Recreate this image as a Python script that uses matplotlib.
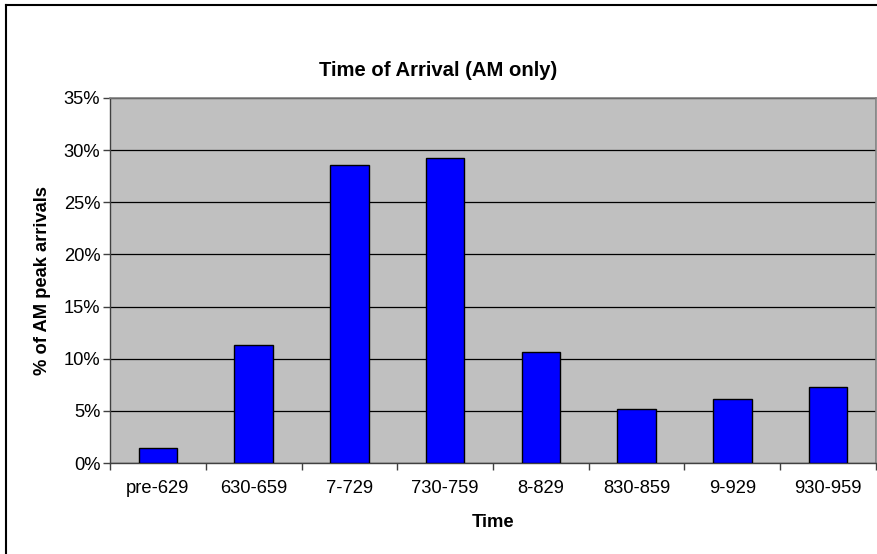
import matplotlib
matplotlib.use('Agg')
import matplotlib.pyplot as plt
from matplotlib.ticker import FixedLocator, PercentFormatter

# data
times = ['pre-629', '630-659', '7-729', '730-759', '8-829', '830-859', '9-929', '930-959']
share = [1.4, 11.35, 28.55, 29.2, 10.6, 5.2, 6.15, 7.3]
y_ticks = [0, 5, 10, 15, 20, 25, 30, 35]

plt.rcParams['font.family'] = ['Liberation Sans', 'DejaVu Sans']

fig = plt.figure(figsize=(8.78, 5.54), dpi=100)
W, H = 878, 554
# plot area in pixels (left, top, right, bottom)
L, T, R, B = 110, 98, 876, 463
ax = fig.add_axes([L / W, 1 - B / H, (R - L) / W, (B - T) / H])
ax.set_facecolor('#c0c0c0')

x = list(range(len(times)))
ax.bar(x, share, width=0.4, color='#0000ff', edgecolor='black', linewidth=1.0, zorder=3)

ax.set_xlim(-0.5, len(times) - 0.5)
ax.set_ylim(0, 35)
ax.yaxis.set_major_locator(FixedLocator(y_ticks))
ax.yaxis.set_major_formatter(PercentFormatter(decimals=0))
ax.grid(axis='y', color='black', linewidth=0.9, zorder=1)

# category labels between tick marks, ticks at boundaries
fs = 13.2
ax.set_xticks([i + 0.5 for i in range(-1, len(times))])
ax.set_xticklabels([])
ax.set_xticks(x, minor=True)
ax.set_xticklabels(times, minor=True)
ax.tick_params(axis='x', which='major', direction='out', length=5, width=1, color='#404040')
ax.tick_params(axis='x', which='minor', length=0, pad=12.5, labelsize=fs)
ax.tick_params(axis='y', direction='out', length=5, width=1, labelsize=fs, pad=2, color='#404040')

for s in ['top', 'right']:
    ax.spines[s].set_color('#808080')
    ax.spines[s].set_linewidth(1.2)
for s in ['left', 'bottom']:
    ax.spines[s].set_color('#404040')
    ax.spines[s].set_linewidth(1.0)

ax.set_ylabel('% of AM peak arrivals', fontsize=fs, fontweight='bold', labelpad=9)
ax.set_xlabel('Time', fontsize=fs, fontweight='bold', labelpad=12)
fig.text(438 / W, 1 - 70 / H, 'Time of Arrival (AM only)', ha='center', va='center',
         fontsize=14.6, fontweight='bold')

# outer chart frame (right and bottom edges fall outside the crop)
fig.add_artist(plt.Line2D([6 / W, 6 / W], [0, 1 - 5 / H], color='black', linewidth=1.5,
                          transform=fig.transFigure))
fig.add_artist(plt.Line2D([6 / W, 1], [1 - 5 / H, 1 - 5 / H], color='black', linewidth=1.5,
                          transform=fig.transFigure))

fig.savefig('out.png', dpi=100)
